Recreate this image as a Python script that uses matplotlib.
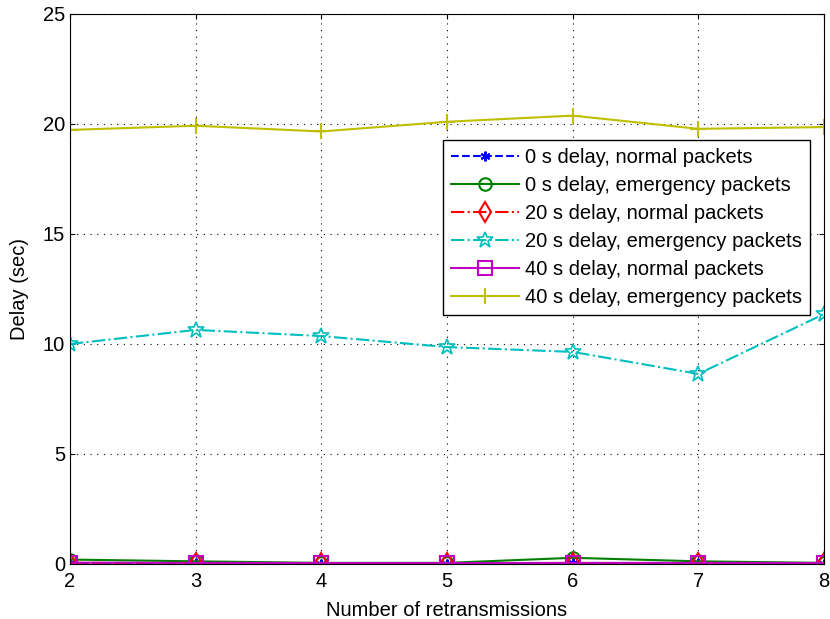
import matplotlib
matplotlib.use("Agg")
import matplotlib.pyplot as plt

retrans = [2, 3, 4, 5, 6, 7, 8]
d0_normal = [0.03, 0.03, 0.02, 0.02, 0.03, 0.03, 0.02]
d0_emerg = [0.20, 0.12, 0.05, 0.05, 0.28, 0.12, 0.05]
d20_normal = [0.05, 0.04, 0.03, 0.03, 0.04, 0.04, 0.03]
d20_emerg = [10.0, 10.64, 10.36, 9.86, 9.64, 8.64, 11.36]
d40_normal = [0.06, 0.05, 0.04, 0.04, 0.05, 0.05, 0.04]
d40_emerg = [19.73, 19.92, 19.66, 20.1, 20.38, 19.78, 19.86]

plt.rcParams['font.family'] = ['Liberation Sans', 'DejaVu Sans']
fig = plt.figure(figsize=(8.3, 6.19), dpi=100)
ax = fig.add_axes([0.0843, 0.0889, 0.9085, 0.8885])

ax.plot(retrans, d0_normal, '--', color='blue', marker=(6, 2, 0), markersize=7, mew=1.5, label="0 s delay, normal packets")
ax.plot(retrans, d0_emerg, '-', color='green', marker='o', markersize=9, mfc='none', mew=1.5, label="0 s delay, emergency packets")
ax.plot(retrans, d20_normal, '-.', color='red', marker='d', markersize=10, mfc='none', mew=1.5, label="20 s delay, normal packets")
ax.plot(retrans, d20_emerg, '-.', color='c', marker='*', markersize=12, mfc='none', mew=1.2, label="20 s delay, emergency packets")
ax.plot(retrans, d40_normal, '-', color='m', marker='s', markersize=10, mfc='none', mew=1.5, label="40 s delay, normal packets")
ax.plot(retrans, d40_emerg, '-', color='y', marker='+', markersize=11, mew=1.5, label="40 s delay, emergency packets")

ax.set_xlim(2, 8)
ax.set_ylim(0, 25)
ax.set_xticks(retrans)
ax.set_yticks([0, 5, 10, 15, 20, 25])
ax.tick_params(direction='in', labelsize=14.5, top=True, right=True)
ax.tick_params(axis='x', pad=6)
ax.grid(True, linestyle=(0, (1, 5)), color='k', linewidth=0.8)
ax.set_xlabel("Number of retransmissions", fontsize=14.5, labelpad=7)
ax.set_ylabel("Delay (sec)", fontsize=14.5, labelpad=10)

leg = ax.legend(loc='upper right', bbox_to_anchor=(0.981, 0.771), fontsize=14.5,
                fancybox=False, edgecolor='k', framealpha=1, borderaxespad=0,
                handlelength=3.35, handletextpad=0.3, labelspacing=0.45,
                borderpad=0.4)
leg.get_frame().set_linewidth(1.0)

fig.savefig("out.png", dpi=100)
